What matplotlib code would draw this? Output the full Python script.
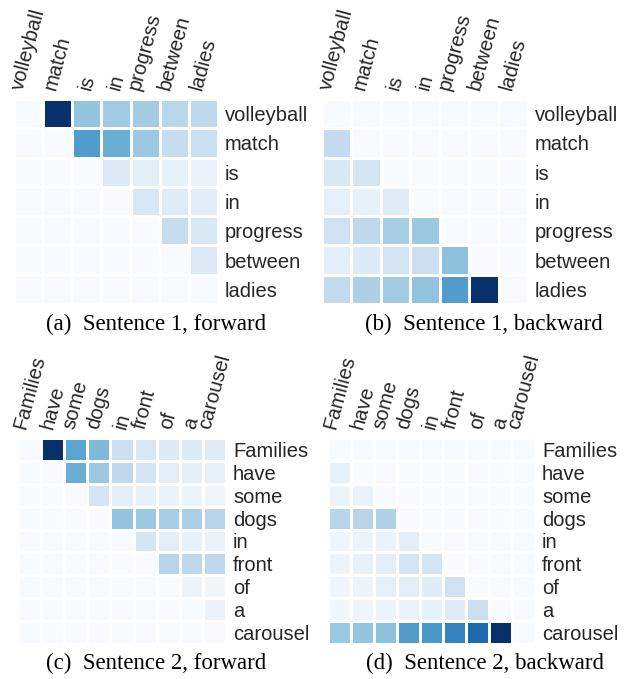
import matplotlib
matplotlib.use('Agg')
import matplotlib.pyplot as plt
import numpy as np

# words
words1 = ['volleyball', 'match', 'is', 'in', 'progress', 'between', 'ladies']
words2 = ['Families', 'have', 'some', 'dogs', 'in', 'front', 'of', 'a', 'carousel']

# attention weights (rows = right labels, cols = top labels)
fwd1 = [
    [0, 1.0, 0.40, 0.37, 0.36, 0.29, 0.27],
    [0, 0, 0.58, 0.50, 0.38, 0.24, 0.22],
    [0, 0, 0, 0.14, 0.10, 0.08, 0.07],
    [0, 0, 0, 0, 0.16, 0.12, 0.11],
    [0, 0, 0, 0, 0, 0.24, 0.15],
    [0, 0, 0, 0, 0, 0, 0.14],
    [0, 0, 0, 0, 0, 0, 0],
]
bwd1 = [
    [0, 0, 0, 0, 0, 0, 0],
    [0.25, 0, 0, 0, 0, 0, 0],
    [0.15, 0.18, 0, 0, 0, 0, 0],
    [0.09, 0.08, 0.12, 0, 0, 0, 0],
    [0.20, 0.27, 0.35, 0.38, 0, 0, 0],
    [0.10, 0.13, 0.18, 0.22, 0.42, 0, 0],
    [0.26, 0.33, 0.37, 0.41, 0.58, 1.0, 0],
]
fwd2 = [
    [0, 1.0, 0.55, 0.45, 0.22, 0.16, 0.13, 0.13, 0.12],
    [0, 0, 0.50, 0.38, 0.27, 0.18, 0.10, 0.10, 0.09],
    [0, 0, 0, 0.17, 0.10, 0.08, 0.07, 0.06, 0.05],
    [0, 0, 0, 0, 0.40, 0.38, 0.35, 0.34, 0.30],
    [0, 0, 0, 0, 0, 0.17, 0.10, 0.08, 0.07],
    [0, 0, 0, 0, 0, 0, 0.30, 0.28, 0.27],
    [0, 0, 0, 0, 0, 0, 0, 0.06, 0.04],
    [0, 0, 0, 0, 0, 0, 0, 0, 0.07],
    [0, 0, 0, 0, 0, 0, 0, 0, 0],
]
bwd2 = [
    [0, 0, 0, 0, 0, 0, 0, 0, 0],
    [0.08, 0, 0, 0, 0, 0, 0, 0, 0],
    [0.06, 0.07, 0, 0, 0, 0, 0, 0, 0],
    [0.30, 0.30, 0.32, 0, 0, 0, 0, 0, 0],
    [0.05, 0.06, 0.07, 0.10, 0, 0, 0, 0, 0],
    [0.06, 0.08, 0.10, 0.17, 0.18, 0, 0, 0, 0],
    [0.05, 0.06, 0.09, 0.10, 0.12, 0.20, 0, 0, 0],
    [0.04, 0.05, 0.06, 0.07, 0.08, 0.12, 0.22, 0, 0],
    [0.38, 0.40, 0.42, 0.58, 0.60, 0.68, 0.78, 1.0, 0],
]
captions = ['(a)  Sentence 1, forward', '(b)  Sentence 1, backward',
            '(c)  Sentence 2, forward', '(d)  Sentence 2, backward']

W, H = 630, 679
fig = plt.figure(figsize=(W / 100, H / 100), dpi=100)

# panel boxes in pixels: left, top, right, bottom
boxes = [(14, 99, 218, 304), (322, 99, 528, 304),
         (18, 438, 226, 644), (328, 438, 535, 644)]
panels = [(fwd1, words1), (bwd1, words1), (fwd2, words2), (bwd2, words2)]
capXY = [(156, 324), (484, 324), (156, 663), (485, 663)]

for (l, t, r, b), (mat, words), cap, (cx, cy) in zip(boxes, panels, captions, capXY):
    ax = fig.add_axes([l / W, 1 - b / H, (r - l) / W, (b - t) / H])
    m = np.array(mat)
    n = len(words)
    ax.pcolormesh(m, cmap='Blues', vmin=0, vmax=1, edgecolors='white', linewidth=0.8)
    ax.set_xlim(0, n)
    ax.set_ylim(n, 0)
    ax.set_xticks(np.arange(n) + 0.5)
    ax.set_yticks(np.arange(n) + 0.5)
    ax.set_xticklabels(words, rotation=75, fontsize=14.5, family='Liberation Sans')
    ax.set_yticklabels(words, fontsize=14.5, family='Liberation Sans')
    ax.xaxis.tick_top()
    ax.yaxis.tick_right()
    ax.tick_params(length=0, pad=5, colors='#262626')
    for s in ax.spines.values():
        s.set_visible(False)
    fig.text(cx / W, 1 - cy / H, cap, ha='center', va='center',
             fontsize=16.5, family='Liberation Serif')

fig.savefig('out.png', dpi=100)
